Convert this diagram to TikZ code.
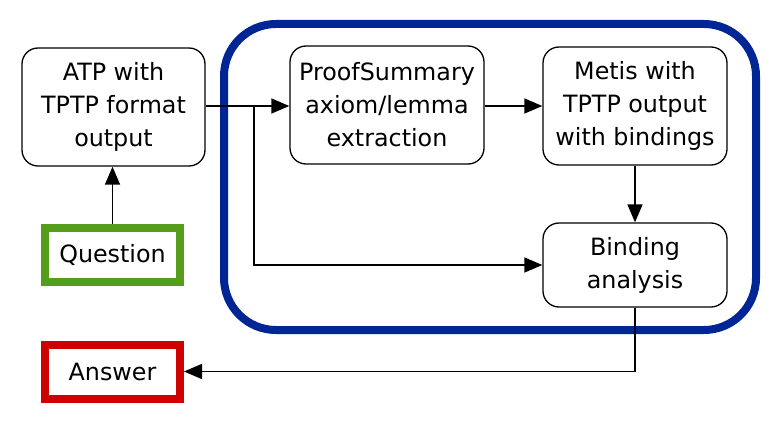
\documentclass[tikz,border=0pt]{standalone}
\usepackage{fontspec}
\setmainfont{DejaVu Sans}
\usetikzlibrary{arrows.meta}
\definecolor{qgreen}{RGB}{84,158,28}
\definecolor{ared}{RGB}{206,0,0}
\definecolor{bblue}{RGB}{0,38,150}
\tikzset{
  proc/.style={draw=black, line width=1.3pt, rounded corners=16pt, align=center,
    inner sep=0pt, font=\fontsize{23.8}{33}\selectfont},
  io/.style={draw, line width=8pt, inner sep=0pt, minimum width=135pt, minimum height=54pt,
    font=\fontsize{23.8}{33}\selectfont},
  arr/.style={line width=1.5pt, -{Triangle[length=18pt,width=15pt]}},
}
\begin{document}
\begin{tikzpicture}[x=1pt,y=-1pt]
\useasboundingbox (0,0) rectangle (781,425);
\draw[bblue, line width=8pt, rounded corners=52pt] (224,24) rectangle (756,330);
\node[proc, minimum width=183pt, minimum height=118pt] (atp) at (113.5,107) {ATP with\\TPTP format\\output};
\node[proc, minimum width=194pt, minimum height=118pt] (ps) at (387,105) {ProofSummary\\axiom/lemma\\extraction};
\node[proc, minimum width=184pt, minimum height=118pt] (metis) at (635,106) {Metis with\\TPTP output\\with bindings};
\node[proc, minimum width=184pt, minimum height=84pt] (bind) at (635,265) {Binding\\analysis};
\node[io, draw=qgreen] (q) at (112.5,255) {Question};
\node[io, draw=ared] (ans) at (112.5,371.5) {Answer};
\coordinate (j) at (254,106);
\draw[arr] (q.north) -- (q.north |- atp.south);
\draw[arr] (atp.east |- j) -- (ps.west |- j);
\draw[arr] (j) |- (bind.west);
\draw[arr] (ps.east |- j) -- (metis.west |- j);
\draw[arr] (metis.south) -- (bind.north);
\draw[arr] (bind.south) |- (ans.east);
\end{tikzpicture}
\end{document}
